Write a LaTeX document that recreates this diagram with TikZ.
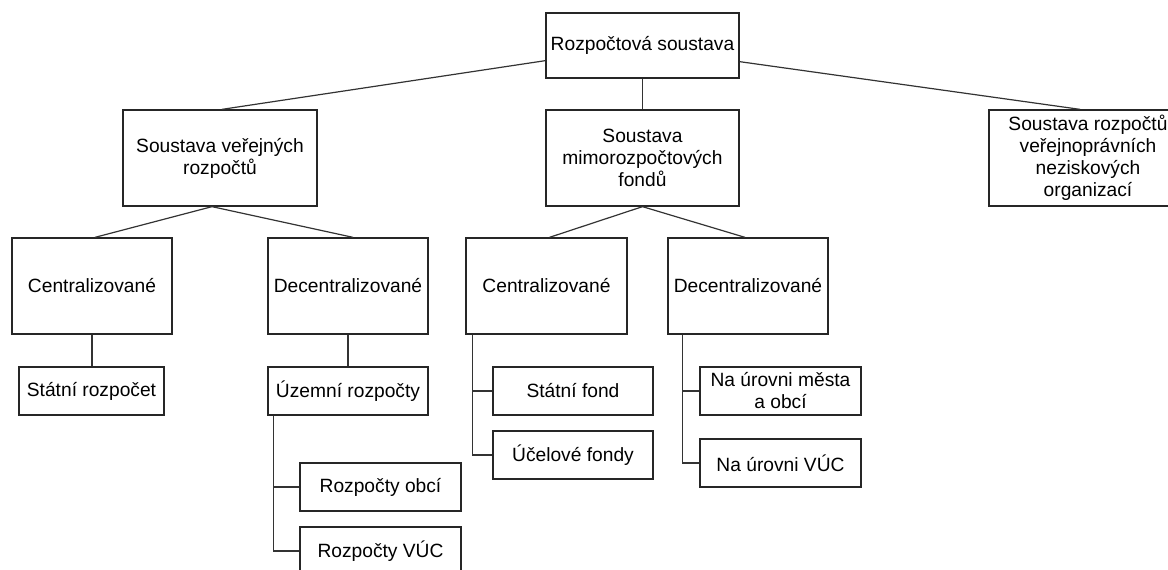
\documentclass[tikz,border=0pt]{standalone}
\usepackage{fontspec}
\setmainfont{Liberation Sans}
\usetikzlibrary{calc}
\begin{document}
\begin{tikzpicture}[x=1pt,y=-1pt,
  every node/.style={font=\fontsize{19.2}{22}\selectfont},
  box/.style={draw=black!85, line width=1.3pt, rectangle, inner sep=0pt, align=center, minimum width=#1},
  box/.default=160pt,
  big/.style={minimum height=96pt},
  small/.style={minimum height=48pt},
  conn/.style={draw=black!80, line width=1.2pt}]
\useasboundingbox (0,0) rectangle (1168,570);
\begin{scope}
\clip (0,0) rectangle (1168,570);
% level 0
\node[box=193pt, minimum height=65pt] (root) at (642.5,45.5) {Rozpočtová soustava};
% level 1
\node[box=194pt, big] (svr) at (220,158) {Soustava veřejných\\rozpočtů};
\node[box=193pt, big] (smf) at (642.5,158) {Soustava\\mimorozpočtových\\fondů};
\node[box=198pt, big] (srv) at (1088,158) {Soustava rozpočtů\\veřejnoprávních\\neziskových\\organizací};
% level 2
\node[box, big] (c1) at (92,286) {Centralizované};
\node[box, big] (d1) at (348,286) {Decentralizované};
\node[box=161pt, big] (c2) at (546.5,286) {Centralizované};
\node[box, big] (d2) at (748,286) {Decentralizované};
% level 3
\node[box=145pt, small] (sr) at (91.5,391) {Státní rozpočet};
\node[box, small] (ur) at (348,391) {Územní rozpočty};
\node[box=161pt, small] (ro) at (380.5,487) {Rozpočty obcí};
\node[box=161pt, small] (rv) at (380.5,551) {Rozpočty VÚC};
\node[box, small] (sf) at (573,391) {Státní fond};
\node[box, small] (uf) at (573,455) {Účelové fondy};
\node[box=161pt, small] (nm) at (780.5,391) {Na úrovni města\\a obcí};
\node[box=161pt, small] (nv) at (780.5,463) {Na úrovni VÚC};
% connectors
\draw[conn] ([yshift=18pt]root.south west) -- ([xshift=2pt]svr.north);
\draw[conn] ([yshift=17pt]root.south east) -- ([xshift=-8pt]srv.north);
\draw[conn] (root.south) -- (smf.north);
\draw[conn] ([xshift=-8pt]svr.south) -- ([xshift=3pt]c1.north);
\draw[conn] ([xshift=-8pt]svr.south) -- ([xshift=5pt]d1.north);
\draw[conn] (smf.south) -- ([xshift=3pt]c2.north);
\draw[conn] (smf.south) -- ([xshift=-3pt]d2.north);
\draw[conn] (c1.south) -- (c1.south |- sr.north);
\draw[conn] (d1.south) -- (ur.north);
\coordinate (ut) at ([xshift=6pt]ur.south west);
\draw[conn] (ut) |- (rv.west);
\draw[conn] (ut |- ro.west) -- (ro.west);
\coordinate (ct) at ([xshift=7pt]c2.south west);
\draw[conn] (ct) |- (uf.west);
\draw[conn] (ct |- sf.west) -- (sf.west);
\coordinate (dt) at ([xshift=15pt]d2.south west);
\draw[conn] (dt) |- (nv.west);
\draw[conn] (dt |- nm.west) -- (nm.west);
\end{scope}
\end{tikzpicture}
\end{document}
